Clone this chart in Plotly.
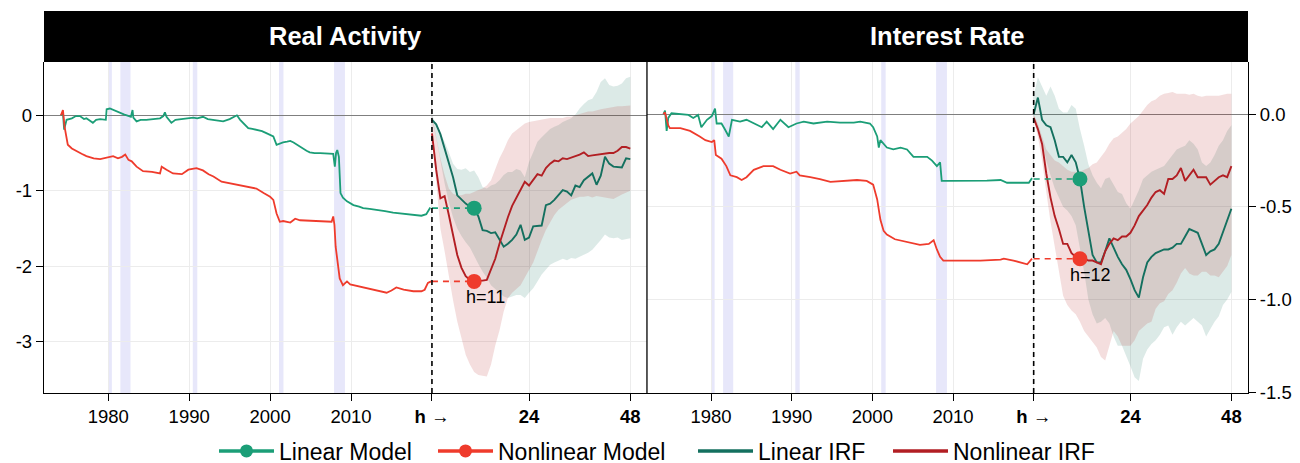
import plotly.graph_objects as go

# ---------------- data ----------------
horizons = list(range(1, 49))
year_ticks = [1980, 1990, 2000, 2010]
year_ticktext = ["1980", "1990", "2000", "2010"]
horizon_ticks = [1, 24, 48]
horizon_ticktext = ["<b>h \u2192</b>", "<b>24</b>", "<b>48</b>"]
panel_titles = ["Real Activity", "Interest Rate"]
peak_h = [11, 12]
legend_names = ["Linear Model", "Nonlinear Model", "Linear IRF", "Nonlinear IRF"]

recessions = [(1980.0, 1980.45), (1981.5, 1982.75), (1990.45, 1991.0),
              (2001.1, 2001.65), (2007.9, 2009.25)]

# ---- Real Activity: history ----
ra_lin_hist_t = [1974.15, 1974.4, 1974.55, 1974.85, 1975.5, 1976.0, 1976.5, 1977.0, 1977.3, 1978.1,
                 1978.5, 1979.0, 1979.7, 1979.8, 1980.2, 1980.6, 1981.0, 1981.4, 1982.0, 1982.3,
                 1982.8, 1983.0, 1983.1, 1983.5, 1984.0, 1984.7, 1985.5, 1986.4, 1986.8, 1987.0,
                 1987.2, 1987.8, 1988.3, 1988.9, 1989.7, 1990.5, 1991.0, 1991.7, 1992.3, 1993.0,
                 1993.6, 1994.2, 1995.0, 1995.9, 1996.3, 1996.8, 1997.3, 1997.8, 1998.3, 1999.0,
                 1999.6, 2000.0, 2000.4, 2000.8, 2001.2, 2001.6, 2002.1, 2002.5, 2002.9, 2003.3,
                 2003.7, 2004.1, 2004.5, 2004.9, 2005.5, 2006.2, 2007.0, 2007.8, 2008.0, 2008.15,
                 2008.3, 2008.5, 2008.7, 2009.0, 2009.5, 2010.3, 2011.0, 2011.5, 2012.3, 2013.2,
                 2014.2, 2015.2, 2016.2, 2017.3, 2018.0, 2018.7, 2019.3, 2019.8]
ra_lin_hist_v = [0.0, 0.03, -0.19, -0.06, -0.04, -0.01, -0.01, -0.05, -0.04, -0.10,
                 -0.06, -0.05, -0.06, 0.08, 0.09, 0.07, 0.06, 0.04, 0.01, 0.0,
                 -0.02, 0.07, -0.03, -0.08, -0.06, -0.06, -0.05, -0.04, -0.01, 0.04,
                 -0.02, -0.10, -0.06, -0.05, -0.04, -0.03, -0.04, -0.02, -0.05, -0.06,
                 -0.07, -0.08, -0.05, 0.0, -0.06, -0.12, -0.17, -0.18, -0.19, -0.21,
                 -0.24, -0.26, -0.28, -0.39, -0.37, -0.36, -0.35, -0.34, -0.36, -0.39,
                 -0.42, -0.44, -0.47, -0.49, -0.50, -0.50, -0.51, -0.51, -0.68, -0.50,
                 -0.46, -0.55, -1.03, -1.09, -1.14, -1.19, -1.21, -1.23, -1.24, -1.25,
                 -1.27, -1.29, -1.30, -1.31, -1.32, -1.33, -1.31, -1.22]
ra_nl_hist_t = [1974.15, 1974.4, 1974.6, 1975.0, 1975.5, 1976.1, 1976.7, 1977.3, 1978.2, 1979.0,
                1979.5, 1980.0, 1980.6, 1981.2, 1981.7, 1982.1, 1982.5, 1982.9, 1983.5, 1984.3,
                1985.4, 1986.4, 1986.6, 1987.2, 1988.0, 1989.1, 1989.9, 1990.9, 1991.7, 1992.4,
                1993.0, 1994.0, 1995.5, 1997.1, 1998.3, 1999.2, 2000.0, 2000.4, 2000.8, 2001.2,
                2001.6, 2002.5, 2003.1, 2003.7, 2005.3, 2006.6, 2007.6, 2007.8, 2007.95, 2008.1,
                2008.4, 2008.6, 2009.0, 2009.3, 2009.5, 2009.9, 2011.1, 2012.3, 2013.6, 2014.4,
                2015.0, 2015.6, 2016.5, 2017.7, 2018.7, 2019.1, 2019.5, 2019.9]
ra_nl_hist_v = [0.0, 0.07, -0.15, -0.39, -0.44, -0.48, -0.51, -0.54, -0.57, -0.58,
                -0.57, -0.55, -0.54, -0.57, -0.55, -0.52, -0.59, -0.61, -0.68, -0.74,
                -0.75, -0.77, -0.68, -0.72, -0.77, -0.78, -0.72, -0.70, -0.73, -0.78,
                -0.81, -0.88, -0.91, -0.95, -0.97, -1.03, -1.08, -1.12, -1.30, -1.41,
                -1.40, -1.42, -1.37, -1.39, -1.40, -1.40, -1.41, -1.34, -1.45, -1.74,
                -1.96, -2.16, -2.25, -2.22, -2.20, -2.24, -2.27, -2.30, -2.33, -2.35,
                -2.32, -2.28, -2.31, -2.33, -2.33, -2.31, -2.22, -2.20]

# ---- Real Activity: impulse responses (h = 1..48) ----
ra_lin_irf = [-0.06, -0.12, -0.25, -0.45, -0.62, -0.82, -1.06, -1.12, -1.17, -1.21,
              -1.23, -1.34, -1.52, -1.53, -1.56, -1.55, -1.65, -1.74, -1.70, -1.65,
              -1.58, -1.45, -1.65, -1.62, -1.47, -1.46, -1.46, -1.19, -1.17, -1.12,
              -1.06, -0.99, -1.01, -1.06, -0.93, -0.95, -0.86, -0.81, -0.77, -0.92,
              -0.80, -0.55, -0.64, -0.68, -0.68, -0.69, -0.57, -0.58]
ra_lin_up = [0.0, -0.11, -0.22, -0.35, -0.49, -0.64, -0.71, -0.72, -0.70, -0.75,
             -0.73, -0.82, -0.95, -0.97, -0.93, -0.91, -0.86, -0.79, -0.75, -0.75,
             -0.71, -0.73, -0.82, -0.62, -0.49, -0.35, -0.29, -0.24, -0.18, -0.15,
             -0.13, -0.09, -0.07, -0.04, 0.01, 0.09, 0.15, 0.20, 0.22, 0.31,
             0.44, 0.49, 0.40, 0.38, 0.39, 0.42, 0.49, 0.51]
ra_lin_lo = [-0.06, -0.30, -0.60, -0.90, -1.15, -1.35, -1.50, -1.60, -1.68, -1.75,
             -1.85, -1.97, -2.07, -2.15, -2.25, -2.30, -2.35, -2.40, -2.42, -2.40,
             -2.38, -2.38, -2.42, -2.35, -2.29, -2.20, -2.11, -2.05, -1.98, -1.95,
             -1.92, -1.90, -1.92, -1.89, -1.90, -1.87, -1.85, -1.82, -1.78, -1.72,
             -1.65, -1.58, -1.62, -1.63, -1.62, -1.65, -1.64, -1.63]
ra_nl_irf = [-0.24, -0.72, -1.10, -1.07, -1.32, -1.60, -1.85, -2.02, -2.13, -2.18,
             -2.20, -2.19, -2.19, -2.18, -2.05, -1.90, -1.70, -1.52, -1.35, -1.20,
             -1.10, -1.00, -0.88, -0.93, -0.85, -0.78, -0.80, -0.70, -0.64, -0.60,
             -0.61, -0.57, -0.58, -0.56, -0.55, -0.52, -0.49, -0.54, -0.53, -0.52,
             -0.52, -0.51, -0.50, -0.50, -0.47, -0.42, -0.42, -0.44]
ra_nl_up = [0.0, -0.31, -0.57, -0.79, -0.97, -1.04, -1.06, -1.06, -1.04, -1.04,
            -1.01, -0.99, -0.97, -0.93, -0.86, -0.71, -0.57, -0.46, -0.33, -0.24,
            -0.20, -0.15, -0.11, -0.09, -0.08, -0.07, -0.05, -0.04, -0.035, -0.035,
            -0.04, -0.035, -0.02, -0.02, 0.0, 0.02, 0.04, 0.05, 0.05, 0.07,
            0.08, 0.09, 0.10, 0.11, 0.12, 0.12, 0.13, 0.13]
ra_nl_lo = [-0.25, -0.90, -1.50, -1.80, -2.10, -2.45, -2.73, -2.95, -3.17, -3.30,
            -3.40, -3.44, -3.45, -3.46, -3.30, -3.05, -2.85, -2.60, -2.42, -2.35,
            -2.30, -2.25, -2.15, -2.05, -1.95, -1.80, -1.65, -1.52, -1.42, -1.32,
            -1.25, -1.20, -1.16, -1.12, -1.10, -1.08, -1.08, -1.07, -1.09, -1.07,
            -1.08, -1.09, -1.10, -1.11, -1.08, -1.05, -1.02, -1.00]

# ---- Interest Rate: history ----
ir_lin_hist_t = [1974.1, 1974.3, 1974.5, 1974.7, 1975.1, 1976.2, 1977.2, 1977.8, 1978.4, 1978.8,
                 1979.5, 1980.1, 1980.5, 1980.7, 1981.3, 1981.7, 1982.2, 1982.6, 1983.6, 1984.4,
                 1985.3, 1986.3, 1986.9, 1987.7, 1988.6, 1989.6, 1990.6, 1991.5, 1992.7, 1994.4,
                 1996.0, 1997.7, 1998.5, 1999.7, 2000.1, 2000.6, 2000.8, 2001.0, 2001.8, 2002.6,
                 2003.5, 2004.3, 2005.1, 2005.9, 2006.8, 2007.4, 2008.0, 2008.4, 2008.6, 2009.3,
                 2011.7, 2014.2, 2015.9, 2016.7, 2018.4, 2019.4, 2019.8]
ir_lin_hist_v = [0.0, 0.02, -0.09, -0.02, 0.005, 0.0, -0.004, -0.02, -0.004, -0.07,
                 -0.03, -0.01, 0.03, -0.05, -0.05, -0.08, -0.12, -0.03, -0.04, -0.03,
                 -0.05, -0.07, -0.04, -0.08, -0.03, -0.07, -0.05, -0.04, -0.05, -0.04,
                 -0.045, -0.045, -0.04, -0.05, -0.07, -0.12, -0.18, -0.14, -0.18, -0.19,
                 -0.18, -0.19, -0.23, -0.23, -0.23, -0.25, -0.28, -0.26, -0.36, -0.36,
                 -0.36, -0.358, -0.355, -0.37, -0.37, -0.37, -0.345]
ir_nl_hist_t = [1974.1, 1974.3, 1974.7, 1974.9, 1976.2, 1977.4, 1978.6, 1979.3, 1980.1, 1980.4,
                1980.6, 1981.3, 1981.9, 1982.4, 1983.2, 1983.8, 1984.4, 1985.3, 1986.5, 1987.7,
                1988.6, 1989.8, 1990.6, 1991.0, 1992.3, 1993.5, 1994.8, 1996.0, 1998.1, 1999.3,
                2000.1, 2000.6, 2001.0, 2001.4, 2001.8, 2002.8, 2004.3, 2005.9, 2007.0, 2007.6,
                2008.0, 2008.4, 2008.8, 2010.9, 2013.4, 2015.9, 2016.3, 2017.5, 2019.2, 2019.8]
ir_nl_hist_v = [0.0, 0.01, -0.06, -0.075, -0.075, -0.09, -0.12, -0.14, -0.15, -0.14,
                -0.22, -0.24, -0.28, -0.33, -0.34, -0.355, -0.34, -0.30, -0.28, -0.28,
                -0.30, -0.32, -0.31, -0.33, -0.34, -0.35, -0.365, -0.36, -0.355, -0.36,
                -0.38, -0.46, -0.57, -0.63, -0.65, -0.675, -0.69, -0.705, -0.70, -0.68,
                -0.73, -0.77, -0.79, -0.79, -0.79, -0.785, -0.78, -0.79, -0.81, -0.78]

# ---- Interest Rate: impulse responses (h = 1..48) ----
ir_lin_irf = [0.0, 0.09, -0.03, -0.06, -0.07, -0.14, -0.23, -0.23, -0.26, -0.22,
              -0.26, -0.35, -0.50, -0.64, -0.76, -0.80, -0.80, -0.74, -0.67, -0.72,
              -0.77, -0.81, -0.84, -0.89, -0.95, -0.99, -0.88, -0.80, -0.77, -0.75,
              -0.74, -0.73, -0.73, -0.72, -0.70, -0.70, -0.66, -0.62, -0.63, -0.64,
              -0.70, -0.76, -0.74, -0.73, -0.70, -0.64, -0.58, -0.51]
ir_lin_up = [0.10, 0.20, 0.15, 0.10, 0.15, 0.10, 0.03, 0.01, 0.01, 0.05,
             0.03, -0.08, -0.17, -0.27, -0.33, -0.37, -0.40, -0.35, -0.34, -0.38,
             -0.42, -0.43, -0.48, -0.51, -0.46, -0.41, -0.35, -0.33, -0.31, -0.30,
             -0.29, -0.28, -0.25, -0.22, -0.19, -0.18, -0.17, -0.14, -0.16, -0.19,
             -0.26, -0.28, -0.26, -0.22, -0.17, -0.14, -0.09, -0.06]
ir_lin_lo = [-0.02, -0.08, -0.15, -0.25, -0.33, -0.40, -0.45, -0.50, -0.52, -0.55,
             -0.60, -0.72, -0.85, -1.00, -1.08, -1.13, -1.12, -1.10, -1.13, -1.20,
             -1.25, -1.25, -1.30, -1.36, -1.42, -1.44, -1.32, -1.27, -1.24, -1.22,
             -1.19, -1.15, -1.14, -1.19, -1.15, -1.12, -1.14, -1.12, -1.10, -1.12,
             -1.14, -1.20, -1.16, -1.12, -1.09, -1.03, -1.00, -0.96]
ir_nl_irf = [-0.02, -0.08, -0.16, -0.32, -0.45, -0.55, -0.62, -0.70, -0.70, -0.75,
             -0.77, -0.78, -0.78, -0.79, -0.79, -0.80, -0.81, -0.74, -0.70, -0.67,
             -0.68, -0.66, -0.66, -0.64, -0.60, -0.55, -0.52, -0.49, -0.45, -0.42,
             -0.41, -0.43, -0.35, -0.35, -0.33, -0.29, -0.36, -0.33, -0.30, -0.34,
             -0.34, -0.34, -0.38, -0.36, -0.34, -0.33, -0.34, -0.28]
ir_nl_up = [0.0, -0.05, -0.12, -0.19, -0.22, -0.25, -0.26, -0.28, -0.30, -0.31,
            -0.31, -0.31, -0.30, -0.29, -0.27, -0.26, -0.23, -0.20, -0.16, -0.13,
            -0.12, -0.10, -0.08, -0.05, -0.03, -0.01, 0.02, 0.05, 0.07, 0.08,
            0.10, 0.11, 0.115, 0.12, 0.11, 0.11, 0.11, 0.105, 0.11, 0.10,
            0.095, 0.10, 0.10, 0.10, 0.10, 0.105, 0.11, 0.11]
ir_nl_lo = [-0.03, -0.12, -0.25, -0.42, -0.58, -0.72, -0.85, -0.98, -1.03, -1.06,
            -1.08, -1.12, -1.17, -1.20, -1.23, -1.26, -1.31, -1.33, -1.25, -1.17,
            -1.20, -1.25, -1.25, -1.25, -1.22, -1.17, -1.15, -1.13, -1.12, -1.05,
            -1.02, -1.01, -0.97, -0.95, -0.91, -0.86, -0.83, -0.86, -0.87, -0.87,
            -0.85, -0.85, -0.87, -0.87, -0.88, -0.85, -0.82, -0.76]

y_ticks = [[0, -1, -2, -3], [0.0, -0.5, -1.0, -1.5]]
y_ticktext = [["0", "-1", "-2", "-3"], ["0.0", "-0.5", "-1.0", "-1.5"]]

# ---------------- styling / layout constants ----------------
C_LIN = "#1B9E77"
C_NL = "#EF3B2C"
C_LIN_IRF = "#14705F"
C_NL_IRF = "#B21E23"
F_LIN = "rgba(20,112,95,0.15)"
F_NL = "rgba(178,34,34,0.15)"
REC_FILL = "rgba(180,180,240,0.32)"
FONT = "Liberation Sans, Arial, sans-serif"

IRF_START = 2020.0      # axis position where the horizon section starts
H_STEP = 0.5215         # axis units per horizon month
X_RANGE = [1972.06, 2046.57]
Y_RANGES = [[-3.678, 0.706], [-1.505, 0.282]]
SPLIT = 0.5008
TOP = 0.8665
BODY = 8                               # default page margin of the html body
FIG_W, FIG_H = 1300 - BODY, 463 - BODY
ML, MR, MT, MB = 44 - BODY, 52, 11 - BODY, 70
PLOT_W = FIG_W - ML - MR
PLOT_H = FIG_H - MT - MB
LEGEND_PX = [214, 433, 693, 888]       # screen x of each legend entry's left edge
LEGEND_YPX = 451                       # screen y of the legend row


def hx(h):
    return IRF_START + (h - 1) * H_STEP


panels = [
    dict(lin_t=ra_lin_hist_t, lin_v=ra_lin_hist_v, nl_t=ra_nl_hist_t, nl_v=ra_nl_hist_v,
         lin_irf=ra_lin_irf, lin_up=ra_lin_up, lin_lo=ra_lin_lo,
         nl_irf=ra_nl_irf, nl_up=ra_nl_up, nl_lo=ra_nl_lo),
    dict(lin_t=ir_lin_hist_t, lin_v=ir_lin_hist_v, nl_t=ir_nl_hist_t, nl_v=ir_nl_hist_v,
         lin_irf=ir_lin_irf, lin_up=ir_lin_up, lin_lo=ir_lin_lo,
         nl_irf=ir_nl_irf, nl_up=ir_nl_up, nl_lo=ir_nl_lo),
]

fig = go.Figure()
shapes = []
annotations = []

for i, p in enumerate(panels):
    xa = "x" if i == 0 else "x2"
    ya = "y" if i == 0 else "y2"
    xs = [hx(h) for h in horizons]

    for up, lo, fc in [(p["lin_up"], p["lin_lo"], F_LIN), (p["nl_up"], p["nl_lo"], F_NL)]:
        fig.add_trace(go.Scatter(x=xs + xs[::-1], y=up + lo[::-1], fill="toself",
                                 fillcolor=fc, line=dict(width=0), mode="lines",
                                 hoverinfo="skip", showlegend=False, xaxis=xa, yaxis=ya))
    fig.add_trace(go.Scatter(x=p["lin_t"], y=p["lin_v"], mode="lines",
                             line=dict(color=C_LIN, width=1.8), showlegend=False,
                             xaxis=xa, yaxis=ya))
    fig.add_trace(go.Scatter(x=p["nl_t"], y=p["nl_v"], mode="lines",
                             line=dict(color=C_NL, width=1.8), showlegend=False,
                             xaxis=xa, yaxis=ya))
    fig.add_trace(go.Scatter(x=xs, y=p["lin_irf"], mode="lines",
                             line=dict(color=C_LIN_IRF, width=1.9), showlegend=False,
                             xaxis=xa, yaxis=ya))
    fig.add_trace(go.Scatter(x=xs, y=p["nl_irf"], mode="lines",
                             line=dict(color=C_NL_IRF, width=1.9), showlegend=False,
                             xaxis=xa, yaxis=ya))
    hp = peak_h[i]
    for irf, col in [(p["lin_irf"], C_LIN), (p["nl_irf"], C_NL)]:
        v = irf[horizons.index(hp)]
        fig.add_trace(go.Scatter(x=[IRF_START, hx(hp)], y=[v, v], mode="lines",
                                 line=dict(color=col, width=1.6, dash="6px,5px"),
                                 showlegend=False, xaxis=xa, yaxis=ya))
        fig.add_trace(go.Scatter(x=[hx(hp)], y=[v], mode="markers",
                                 marker=dict(color=col, size=15), showlegend=False,
                                 xaxis=xa, yaxis=ya))
    vnl = p["nl_irf"][horizons.index(hp)]
    annotations.append(dict(x=hx(hp), y=vnl, xref=xa, yref=ya, text=f"h={hp}",
                            showarrow=False, xanchor="center", yanchor="top",
                            xshift=11, yshift=-4, font=dict(size=18, color="black", family=FONT)))

    for a, b in recessions:
        shapes.append(dict(type="rect", xref=xa, yref=ya + " domain", x0=a, x1=b, y0=0, y1=1,
                           fillcolor=REC_FILL, line=dict(width=0), layer="below"))
    shapes.append(dict(type="line", xref=xa, yref=ya + " domain", x0=IRF_START, x1=IRF_START,
                       y0=0, y1=1, line=dict(color="black", width=1.6, dash="5px,4px")))

    cx = (0 + SPLIT) / 2 if i == 0 else (SPLIT + 1) / 2
    annotations.append(dict(x=cx, y=(TOP + 1) / 2, xref="paper", yref="paper",
                            text=f"<b>{panel_titles[i]}</b>", showarrow=False,
                            xanchor="center", yanchor="middle",
                            font=dict(size=25.5, color="white", family=FONT)))

shapes.append(dict(type="rect", xref="paper", yref="paper", x0=0, x1=1, y0=TOP, y1=1,
                   fillcolor="black", line=dict(width=0)))
shapes.append(dict(type="line", xref="paper", yref="paper", x0=SPLIT, x1=SPLIT, y0=0, y1=TOP,
                   line=dict(color="black", width=1.3)))

# legend entries: one small legend per entry so spacing can match the reference
legend_styles = [(C_LIN, "lines+markers"), (C_NL, "lines+markers"),
                 (C_LIN_IRF, "lines"), (C_NL_IRF, "lines")]
legend_layouts = {}
plot_bottom_screen = BODY + MT + PLOT_H
for k, (name, (col, mode)) in enumerate(zip(legend_names, legend_styles)):
    lname = "legend" if k == 0 else f"legend{k + 1}"
    fig.add_trace(go.Scatter(x=[None], y=[None], mode=mode, name=name, legend=lname,
                             line=dict(color=col, width=3.5),
                             marker=dict(color=col, size=13), showlegend=True))
    legend_layouts[lname] = dict(
        orientation="h", x=(LEGEND_PX[k] - BODY - ML) / PLOT_W, xanchor="left",
        y=(plot_bottom_screen - LEGEND_YPX) / PLOT_H, yanchor="middle",
        font=dict(size=23, color="black", family=FONT), itemwidth=55,
        bgcolor="rgba(0,0,0,0)", borderwidth=0)

xtickvals = year_ticks + [hx(h) for h in horizon_ticks]
xticktext = year_ticktext + horizon_ticktext
axis_common = dict(showgrid=True, gridcolor="#ececec", gridwidth=1, showline=True,
                   linecolor="black", linewidth=1.3, ticks="outside", ticklen=7,
                   tickcolor="black", tickwidth=1.3, zeroline=False, automargin=False,
                   tickfont=dict(size=18.5, color="black", family=FONT))
yzero = {"zeroline": True, "zerolinecolor": "#7f7f7f", "zerolinewidth": 1.1}

fig.update_layout(
    width=FIG_W, height=FIG_H,
    margin=dict(l=ML, r=MR, t=MT, b=MB, autoexpand=False),
    paper_bgcolor="white", plot_bgcolor="white",
    font=dict(family=FONT, color="black"),
    xaxis=dict(domain=[0, SPLIT], range=X_RANGE, tickvals=xtickvals, ticktext=xticktext,
               anchor="y", **axis_common),
    xaxis2=dict(domain=[SPLIT, 1], range=X_RANGE, tickvals=xtickvals, ticktext=xticktext,
                anchor="y2", **axis_common),
    yaxis=dict(domain=[0, TOP], range=Y_RANGES[0], tickvals=y_ticks[0], ticktext=y_ticktext[0],
               anchor="x", **{**axis_common, **yzero}),
    yaxis2=dict(domain=[0, TOP], range=Y_RANGES[1], tickvals=y_ticks[1], ticktext=y_ticktext[1],
                anchor="x2", side="right", **{**axis_common, **yzero}),
    shapes=shapes,
    annotations=annotations,
    showlegend=True,
    **legend_layouts,
)

fig.write_html("out.html")
